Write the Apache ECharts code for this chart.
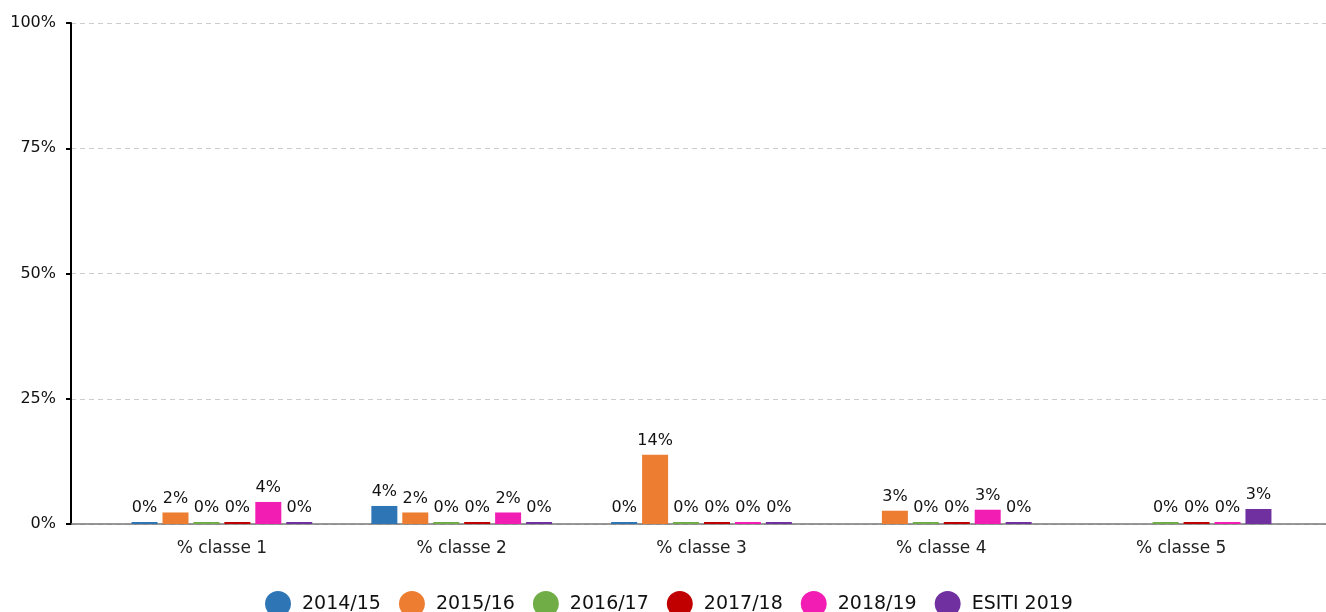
<!DOCTYPE html>
<html>
<head>
<meta charset="utf-8">
<script src="https://cdn.jsdelivr.net/npm/echarts@6/dist/echarts.min.js"></script>
<style>
html,body{margin:0;padding:0;background:#fff;}
#chart{width:1326px;height:612px;}
</style>
</head>
<body>
<div id="chart"></div>
<script>
var categories = ['% classe 1', '% classe 2', '% classe 3', '% classe 4', '% classe 5'];
var seriesNames = ['2014/15', '2015/16', '2016/17', '2017/18', '2018/19', 'ESITI 2019'];
var s201415 = [0, 3.6, 0, null, null];
var s201516 = [2.3, 2.3, 13.8, 2.65, null];
var s201617 = [0, 0, 0, 0, 0];
var s201718 = [0, 0, 0, 0, 0];
var s201819 = [4.4, 2.3, 0, 2.85, 0];
var esiti2019 = [0, 0, 0, 0, 3.0];
var yTicks = [0, 25, 50, 75, 100];

var colors = ['#2e75b6', '#ed7d31', '#70ad47', '#c00000', '#f21db3', '#7030a0'];
var allData = [s201415, s201516, s201617, s201718, s201819, esiti2019];
var FONT = 'DejaVu Sans';

var chart = echarts.init(document.getElementById('chart'), null, {renderer: 'canvas'});

var series = allData.map(function (d, i) {
  return {
    name: seriesNames[i],
    type: 'bar',
    xAxisIndex: 1,
    yAxisIndex: 1,
    data: d,
    barWidth: 26,
    barGap: '19%',
    barMinHeight: 2,
    itemStyle: {color: colors[i]},
    label: {
      show: true,
      position: 'top',
      distance: 6,
      fontFamily: FONT,
      fontSize: 16,
      color: '#111',
      formatter: function (p) { return Math.round(p.value) + '%'; }
    }
  };
});

chart.setOption({
  animation: false,
  color: colors,
  grid: [
    {left: 71, right: 0, top: 23, bottom: 88},
    {left: 102, right: 25, top: 23, bottom: 88}
  ],
  xAxis: [
    {
      gridIndex: 0, type: 'value', min: 0, max: 1,
      axisLine: {show: true, lineStyle: {color: '#777', width: 1.5}},
      axisTick: {show: false}, axisLabel: {show: false}, splitLine: {show: false}
    },
    {
      gridIndex: 1, type: 'category', data: categories,
      axisLine: {show: false}, axisTick: {show: false},
      axisLabel: {margin: 16, fontFamily: FONT, fontSize: 17, color: '#222'}
    }
  ],
  yAxis: [
    {
      gridIndex: 0, type: 'value', min: yTicks[0], max: yTicks[yTicks.length - 1], interval: 25,
      axisLine: {show: true, lineStyle: {color: '#000', width: 2}},
      axisTick: {show: true, length: 5, lineStyle: {color: '#000', width: 2}},
      axisLabel: {margin: 15, fontFamily: FONT, fontSize: 16, color: '#111', formatter: '{value}%'},
      splitLine: {show: true, lineStyle: {color: '#ccc', type: [5, 4], width: 1}}
    },
    {
      gridIndex: 1, type: 'value', min: 0, max: 100, show: false,
      splitLine: {show: false}
    }
  ],
  legend: {
    data: seriesNames,
    left: 260,
    top: 586,
    icon: 'circle',
    itemWidth: 38,
    itemHeight: 26,
    itemGap: 18,
    textStyle: {fontFamily: FONT, fontSize: 19, color: '#111'}
  },
  series: series
});
</script>
</body>
</html>
